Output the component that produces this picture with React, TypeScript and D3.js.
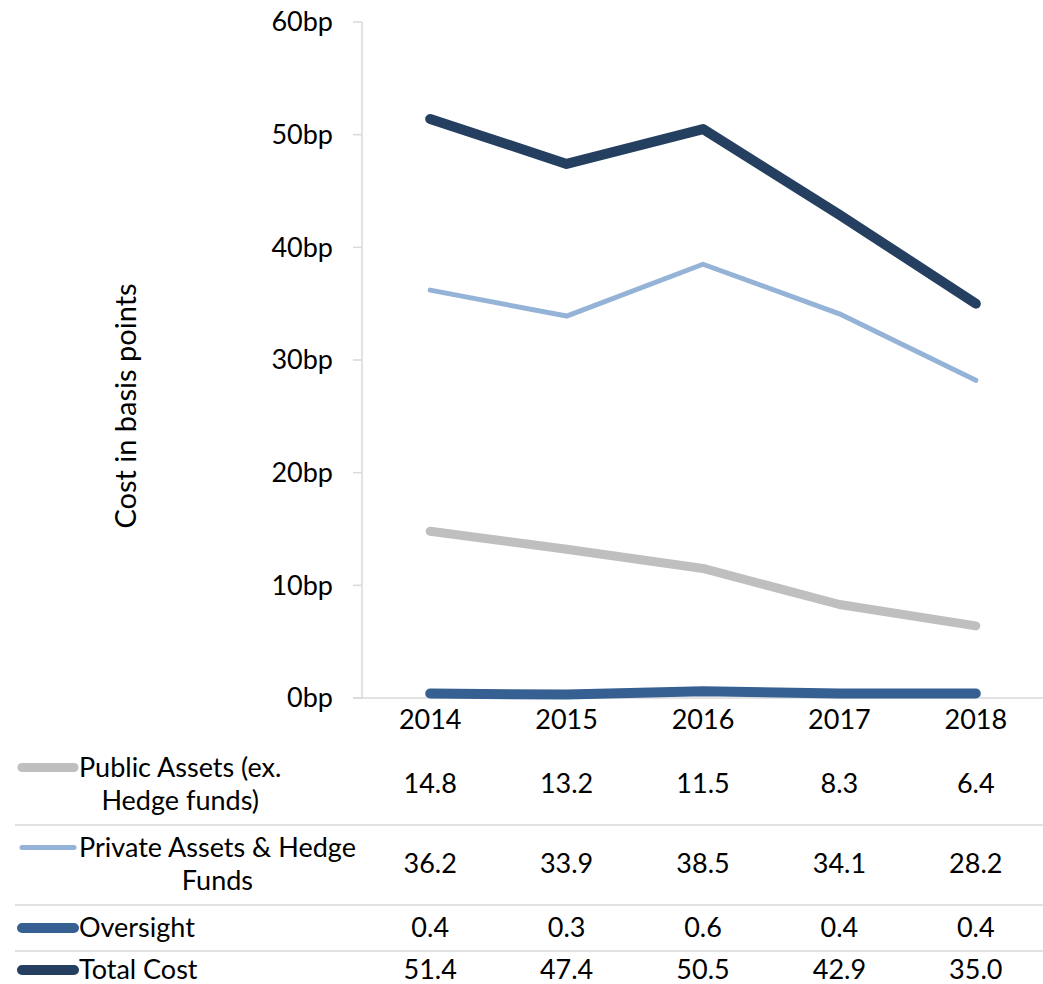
import React, { useEffect, useRef } from "react";
import * as d3 from "d3";

const years = ["2014", "2015", "2016", "2017", "2018"];
const publicAssets = [14.8, 13.2, 11.5, 8.3, 6.4];
const privateAssets = [36.2, 33.9, 38.5, 34.1, 28.2];
const oversight = [0.4, 0.3, 0.6, 0.4, 0.4];
const totalCost = [51.4, 47.4, 50.5, 42.9, 35.0];
const yTicks = [0, 10, 20, 30, 40, 50, 60];

const seriesNames = [
  ["Public Assets (ex.", "Hedge funds)"],
  ["Private Assets & Hedge", "Funds"],
  ["Oversight"],
  ["Total Cost"],
];
const seriesValues = [publicAssets, privateAssets, oversight, totalCost];
const seriesColors = ["#BFBFBF", "#95B3D7", "#376092", "#243F60"];
const seriesWidths = [9, 5, 10, 10];

const W = 1043;
const H = 984;
const FONT = "Lato, 'Open Sans', sans-serif";
const FS = 27;

export default function App() {
  const ref = useRef<SVGSVGElement | null>(null);

  useEffect(() => {
    const svg = d3.select(ref.current);
    svg.selectAll("*").remove();

    const x = d3.scaleBand<string>().domain(years).range([362, 1044]);
    const y = d3.scaleLinear().domain([0, 60]).range([698, 22]);
    const cx = (d: string) => (x(d) as number) + x.bandwidth() / 2;

    const axisColor = "#D9D9D9";

    // y axis line and ticks
    svg.append("line")
      .attr("x1", 362).attr("x2", 362)
      .attr("y1", y(60)).attr("y2", y(0))
      .attr("stroke", axisColor).attr("stroke-width", 1.5);
    svg.selectAll(".ytick")
      .data(yTicks)
      .enter()
      .append("line")
      .attr("x1", 353).attr("x2", 362)
      .attr("y1", (d) => y(d)).attr("y2", (d) => y(d))
      .attr("stroke", axisColor).attr("stroke-width", 1.5);
    svg.selectAll(".ylab")
      .data(yTicks)
      .enter()
      .append("text")
      .attr("x", 333)
      .attr("y", (d) => y(d))
      .attr("dy", "0.35em")
      .attr("text-anchor", "end")
      .attr("font-family", FONT)
      .attr("font-size", FS)
      .attr("fill", "#000")
      .text((d) => `${d}bp`);

    // x axis line
    svg.append("line")
      .attr("x1", 353).attr("x2", W)
      .attr("y1", y(0)).attr("y2", y(0))
      .attr("stroke", axisColor).attr("stroke-width", 1.5);

    svg.selectAll(".xlab")
      .data(years)
      .enter()
      .append("text")
      .attr("x", (d) => cx(d))
      .attr("y", 720)
      .attr("dy", "0.35em")
      .attr("text-anchor", "middle")
      .attr("font-family", FONT)
      .attr("font-size", FS)
      .text((d) => d);

    // axis title
    svg.append("text")
      .attr("transform", `translate(126,${(y(0) + y(60)) / 2 + 46}) rotate(-90)`)
      .attr("dy", "0.35em")
      .attr("text-anchor", "middle")
      .attr("font-family", FONT)
      .attr("font-size", 29)
      .text("Cost in basis points");

    // series lines
    const line = d3.line<number>()
      .x((_, i) => cx(years[i]))
      .y((d) => y(d));
    seriesValues.forEach((vals, i) => {
      svg.append("path")
        .datum(vals)
        .attr("d", line)
        .attr("fill", "none")
        .attr("stroke", seriesColors[i])
        .attr("stroke-width", seriesWidths[i])
        .attr("stroke-linecap", "round")
        .attr("stroke-linejoin", "round");
    });

    // data table
    const rowCenters = [784, 864, 928, 970];
    const separators = [825, 905, 951];
    const lineGap = 33;

    svg.selectAll(".sep")
      .data(separators)
      .enter()
      .append("line")
      .attr("x1", 15).attr("x2", W)
      .attr("y1", (d) => d).attr("y2", (d) => d)
      .attr("stroke", axisColor).attr("stroke-width", 1.5);

    seriesNames.forEach((lines, i) => {
      const top = rowCenters[i] - ((lines.length - 1) * lineGap) / 2;
      svg.append("line")
        .attr("x1", 22).attr("x2", 74)
        .attr("y1", top).attr("y2", top)
        .attr("stroke", seriesColors[i])
        .attr("stroke-width", seriesWidths[i])
        .attr("stroke-linecap", "round");

      const g = svg.append("g");
      const texts = lines.map((s, j) =>
        g.append("text")
          .attr("y", top + j * lineGap)
          .attr("dy", "0.35em")
          .attr("text-anchor", "middle")
          .attr("font-family", FONT)
          .attr("font-size", FS)
          .text(s)
      );
      const widths = texts.map((t) => (t.node() as SVGTextElement).getComputedTextLength());
      const maxW = Math.max(...widths);
      const center = 79 + maxW / 2;
      texts.forEach((t) => t.attr("x", center));

      svg.selectAll(null)
        .data(seriesValues[i])
        .enter()
        .append("text")
        .attr("x", (_, k) => cx(years[k]))
        .attr("y", rowCenters[i])
        .attr("dy", "0.35em")
        .attr("text-anchor", "middle")
        .attr("font-family", FONT)
        .attr("font-size", FS)
        .text((d) => d.toFixed(1));
    });
  }, []);

  return (
    <svg
      ref={ref}
      width={W}
      height={H}
      style={{ position: "absolute", left: 0, top: 0, background: "#fff" }}
    />
  );
}
